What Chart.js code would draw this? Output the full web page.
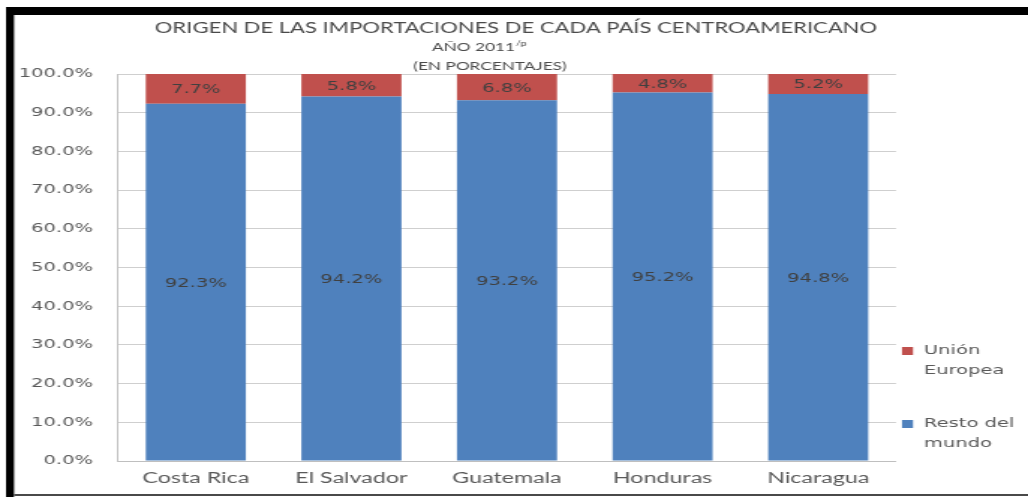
<!DOCTYPE html>
<html>
<head>
<meta charset="utf-8">
<script src="https://cdn.jsdelivr.net/npm/chart.js@4.4.1/dist/chart.umd.min.js"></script>
<style>
html,body{margin:0;padding:0;background:#ffffff;overflow:hidden;}
#wrap{position:absolute;left:0;top:0;width:686px;height:497px;transform:scaleX(1.498542);transform-origin:0 0;}
canvas{display:block;}
</style>
</head>
<body>
<div id="wrap"><canvas id="c" width="686" height="497"></canvas></div>
<script>
// ---- data ----
const categories = ['Costa Rica', 'El Salvador', 'Guatemala', 'Honduras', 'Nicaragua'];
const restoDelMundo = [92.3, 94.2, 93.2, 95.2, 94.8];
const unionEuropea = [7.7, 5.8, 6.8, 4.8, 5.2];
const seriesNames = ['Resto del mundo', 'Unión Europea'];
const legendText = { 'Unión Europea': ['Unión', 'Europea'], 'Resto del mundo': ['Resto del', 'mundo'] };
const yTickValues = [0, 10, 20, 30, 40, 50, 60, 70, 80, 90, 100];
const titleLine1 = 'ORIGEN DE LAS IMPORTACIONES DE CADA PAÍS CENTROAMERICANO';
const titleLine2 = 'AÑO 2011';
const titleLine2Sup = '/p';
const titleLine3 = '(EN PORCENTAJES)';

// ---- layout helpers (reference is horizontally stretched) ----
const S = 1028 / 686;
const X = p => p / S;

const BLUE = '#4F81BD';
const RED = '#C0504D';
const TEXT = '#595959';

const framePlugin = {
  id: 'frame',
  afterDraw(chart) {
    const ctx = chart.ctx;
    ctx.save();
    ctx.fillStyle = '#000';
    ctx.fillRect(X(6), 7, X(1028) - X(6), 8);
    ctx.fillRect(X(6), 7, X(14) - X(6), 490);
    ctx.fillStyle = '#9a9a9a';
    ctx.fillRect(X(14), 15, X(15) - X(14), 480);
    ctx.fillStyle = '#4a4a4a';
    ctx.fillRect(X(14), 494, X(1028) - X(14), 2);
    ctx.restore();
  }
};

const titlePlugin = {
  id: 'customTitle',
  afterDraw(chart) {
    const ctx = chart.ctx;
    ctx.save();
    ctx.fillStyle = '#4a4a4a';
    ctx.textBaseline = 'middle';
    ctx.textAlign = 'center';
    ctx.font = '14.7px Lato';
    ctx.fillText(titleLine1, X(516), 28);
    // line 2 with superscript
    ctx.font = '11.5px Lato';
    const w1 = ctx.measureText(titleLine2).width;
    ctx.font = '7.5px Lato';
    const w2 = ctx.measureText(titleLine2Sup).width;
    const start = X(479) - (w1 + w2) / 2;
    ctx.textAlign = 'left';
    ctx.font = '11.5px Lato';
    ctx.fillText(titleLine2, start, 47);
    ctx.font = '7.5px Lato';
    ctx.fillText(titleLine2Sup, start + w1 + 0.5, 44);
    ctx.textAlign = 'center';
    ctx.font = '11.5px Lato';
    ctx.fillText(titleLine3, X(490), 66);
    ctx.restore();
  }
};

const valueLabelPlugin = {
  id: 'valueLabels',
  afterDatasetsDraw(chart) {
    const ctx = chart.ctx;
    ctx.save();
    ctx.font = '13px "DejaVu Sans"';
    ctx.fillStyle = '#404040';
    ctx.textAlign = 'center';
    ctx.textBaseline = 'middle';
    chart.data.datasets.forEach((ds, i) => {
      const meta = chart.getDatasetMeta(i);
      meta.data.forEach((bar, j) => {
        const v = ds.data[j];
        ctx.fillText(v.toFixed(1) + '%', bar.x, (bar.y + bar.base) / 2 + 1);
      });
    });
    ctx.restore();
  }
};

const legendPlugin = {
  id: 'sideLegend',
  afterDraw(chart) {
    const ctx = chart.ctx;
    ctx.save();
    ctx.font = '13px "DejaVu Sans"';
    ctx.textBaseline = 'middle';
    ctx.textAlign = 'left';
    const order = chart.data.datasets.map((d, i) => i).reverse();
    const firstLineY = [351, 424];
    order.forEach((dsIndex, k) => {
      const ds = chart.data.datasets[dsIndex];
      const y = firstLineY[k];
      ctx.fillStyle = ds.backgroundColor;
      ctx.fillRect(X(902), y - 4, X(913) - X(902), 8);
      ctx.fillStyle = TEXT;
      const lines = legendText[ds.label] || [ds.label];
      lines.forEach((ln, li) => ctx.fillText(ln, X(924), y + li * 20));
    });
    ctx.restore();
  }
};

new Chart(document.getElementById('c'), {
  type: 'bar',
  data: {
    labels: categories,
    datasets: [
      { label: seriesNames[0], data: restoDelMundo, backgroundColor: BLUE, borderWidth: 0 },
      { label: seriesNames[1], data: unionEuropea, backgroundColor: RED, borderWidth: 0 }
    ]
  },
  options: {
    responsive: false,
    animation: false,
    events: [],
    categoryPercentage: 1.0,
    barPercentage: 0.643,
    layout: { padding: { left: 0, right: 686 - X(896), top: 74, bottom: 0 } },
    plugins: {
      legend: { display: false },
      title: { display: false },
      tooltip: { enabled: false }
    },
    scales: {
      x: {
        stacked: true,
        grid: { display: false, drawTicks: false },
        border: { display: true, color: '#BFBFBF', width: 1 },
        ticks: { color: TEXT, font: { family: 'Lato', size: 15.5 }, padding: 7.6, maxRotation: 0 },
        afterFit(scale) { scale.height = 36; }
      },
      y: {
        stacked: true,
        min: 0,
        max: 100,
        afterBuildTicks(scale) { scale.ticks = yTickValues.map(v => ({ value: v })); },
        grid: { color: '#CFCFCF', lineWidth: 1, drawTicks: false },
        border: { display: true, color: '#BFBFBF', width: 1 },
        ticks: {
          color: TEXT,
          font: { family: 'DejaVu Sans', size: 13 },
          padding: 16.7,
          callback: v => v.toFixed(1) + '%'
        },
        afterFit(scale) { scale.width = X(118); }
      }
    }
  },
  plugins: [framePlugin, titlePlugin, valueLabelPlugin, legendPlugin]
});
</script>
</body>
</html>
